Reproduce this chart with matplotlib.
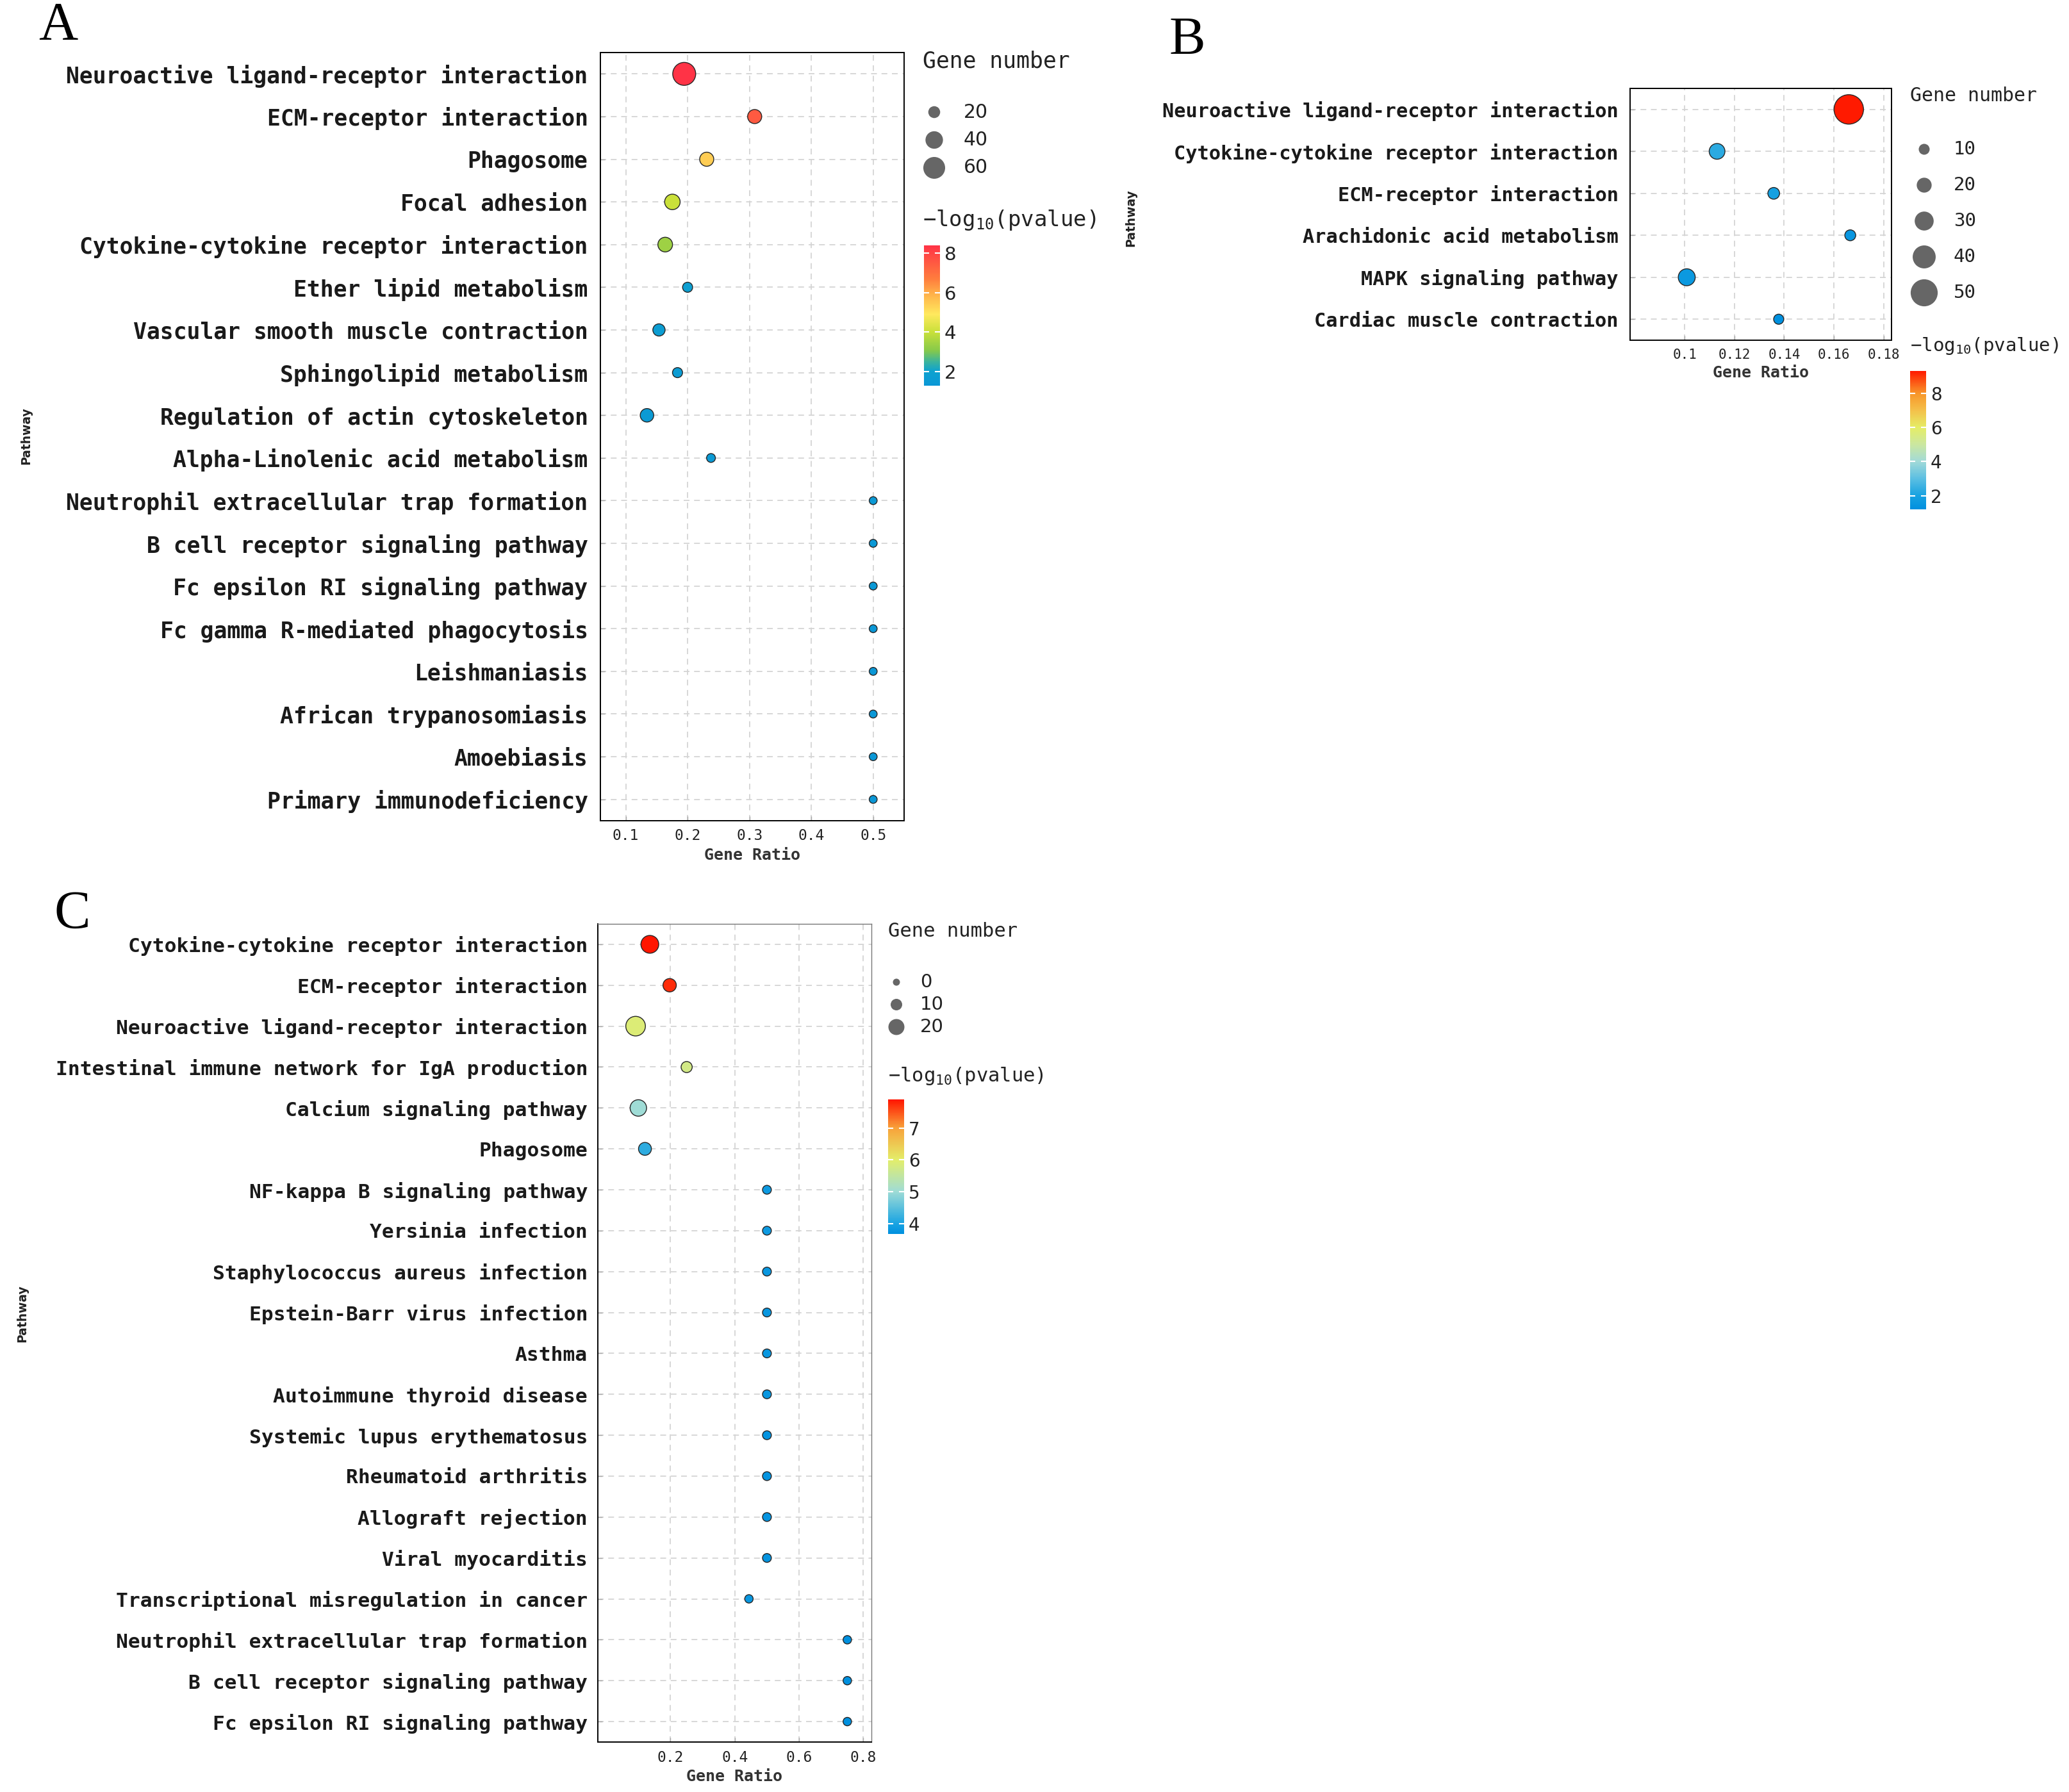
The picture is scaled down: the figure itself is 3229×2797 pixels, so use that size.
import numpy as np
import matplotlib
matplotlib.use("Agg")
import matplotlib.pyplot as plt
from matplotlib.colors import LinearSegmentedColormap, Normalize
from matplotlib.cm import ScalarMappable

W, H, DPI = 3230, 2797, 100
MONO = "DejaVu Sans Mono"

# ---------------- panel A ----------------
a_pathways = ["Neuroactive ligand-receptor interaction", "ECM-receptor interaction",
              "Phagosome", "Focal adhesion", "Cytokine-cytokine receptor interaction",
              "Ether lipid metabolism", "Vascular smooth muscle contraction",
              "Sphingolipid metabolism", "Regulation of actin cytoskeleton",
              "Alpha-Linolenic acid metabolism", "Neutrophil extracellular trap formation",
              "B cell receptor signaling pathway", "Fc epsilon RI signaling pathway",
              "Fc gamma R-mediated phagocytosis", "Leishmaniasis",
              "African trypanosomiasis", "Amoebiasis", "Primary immunodeficiency"]
a_ratio = [0.1945, 0.3084, 0.2309, 0.1754, 0.1638, 0.200, 0.1537, 0.1837, 0.1343,
           0.2378, 0.5, 0.5, 0.5, 0.5, 0.5, 0.5, 0.5, 0.5]
a_count = [66, 27, 27, 32, 29, 15, 21, 15, 25, 12, 10, 10, 10, 10, 10, 10, 10, 10]
a_logp = [8.4, 7.5, 5.4, 4.0, 3.4, 1.8, 1.7, 1.6, 1.5, 1.5, 1.4, 1.35, 1.35, 1.3,
          1.3, 1.3, 1.27, 1.27]
a_xticks = [0.1, 0.2, 0.3, 0.4, 0.5]
a_size_breaks = [20, 40, 60]
a_color_ticks = [2, 4, 6, 8]

# ---------------- panel B ----------------
b_pathways = ["Neuroactive ligand-receptor interaction",
              "Cytokine-cytokine receptor interaction", "ECM-receptor interaction",
              "Arachidonic acid metabolism", "MAPK signaling pathway",
              "Cardiac muscle contraction"]
b_ratio = [0.166, 0.113, 0.1358, 0.1666, 0.1008, 0.1378]
b_count = [56, 22, 12, 10, 25, 8]
b_logp = [9.3, 2.3, 1.9, 1.5, 1.6, 1.2]
b_xticks = [0.1, 0.12, 0.14, 0.16, 0.18]
b_size_breaks = [10, 20, 30, 40, 50]
b_color_ticks = [2, 4, 6, 8]

# ---------------- panel C ----------------
c_pathways = ["Cytokine-cytokine receptor interaction", "ECM-receptor interaction",
              "Neuroactive ligand-receptor interaction",
              "Intestinal immune network for IgA production", "Calcium signaling pathway",
              "Phagosome", "NF-kappa B signaling pathway", "Yersinia infection",
              "Staphylococcus aureus infection", "Epstein-Barr virus infection", "Asthma",
              "Autoimmune thyroid disease", "Systemic lupus erythematosus",
              "Rheumatoid arthritis", "Allograft rejection", "Viral myocarditis",
              "Transcriptional misregulation in cancer",
              "Neutrophil extracellular trap formation",
              "B cell receptor signaling pathway", "Fc epsilon RI signaling pathway"]
c_ratio = [0.1358, 0.1974, 0.0915, 0.2503, 0.100, 0.1206, 0.5, 0.5, 0.5, 0.5, 0.5,
           0.5, 0.5, 0.5, 0.5, 0.5, 0.444, 0.75, 0.75, 0.75]
c_count = [24, 14, 28, 9, 21, 13, 4, 4, 4, 4, 4, 4, 4, 4, 4, 4, 3, 3, 3, 3]
c_logp = [7.9, 7.75, 5.9, 5.75, 5.0, 4.15, 3.85, 3.85, 3.8, 3.8, 3.8, 3.8, 3.75,
          3.75, 3.75, 3.75, 3.8, 3.67, 3.67, 3.67]
c_xticks = [0.2, 0.4, 0.6, 0.8]
c_size_breaks = [0, 10, 20]
c_color_ticks = [4, 5, 6, 7]


def box(x0, y0, x1, y1):
    # pixel box (top-left origin) -> figure fraction rect
    return [x0 / W, 1 - y1 / H, (x1 - x0) / W, (y1 - y0) / H]


def make_cmap(stops):
    vmin, vmax = stops[0][0], stops[-1][0]
    pos = [(v - vmin) / (vmax - vmin) for v, _ in stops]
    cmap = LinearSegmentedColormap.from_list("c", list(zip(pos, [c for _, c in stops])))
    return cmap, Normalize(vmin, vmax)


def area(d_px):
    return (np.asarray(d_px, dtype=float) * 72 / DPI) ** 2


# diameter (px) as a function of gene number, per panel
def size_a(n):
    return -2.6 + 4.73 * np.sqrt(n)


def size_b(n):
    return 10.7 + 0.63 * np.asarray(n, dtype=float)


def size_c(n):
    return 11 + 0.7 * np.asarray(n, dtype=float)


cmap_a, norm_a = make_cmap([(1.27, "#0a97d6"), (2.0, "#0ea2cf"), (2.5, "#3db49a"),
                            (3.05, "#86c94a"), (4.0, "#c9e03a"), (4.9, "#ffe95e"),
                            (6.0, "#ffad48"), (6.7, "#ff7d3d"), (8.4, "#ff3346")])
cmap_b, norm_b = make_cmap([(1.2, "#0090df"), (2.0, "#18a2e1"), (3.0, "#5cbfe2"),
                            (4.0, "#a2dad8"), (5.0, "#cbe7a0"), (6.0, "#e5ed66"),
                            (7.0, "#f4c04a"), (8.0, "#f8962a"), (9.3, "#ff1a00")])
cmap_c, norm_c = make_cmap([(3.67, "#0090df"), (4.0, "#1aa4e2"), (5.0, "#9fdcd6"),
                            (6.0, "#e3ee6a"), (7.0, "#f8a23a"), (7.9, "#ff1500")])

fig = plt.figure(figsize=(W / DPI, H / DPI), dpi=DPI)


def dot_panel(rect, pathways, ratio, count, logp, cmap, norm, size_fn, xlim, xticks,
              label_fs, label_weight, label_pad, tick_fs, frame="black"):
    ax = fig.add_axes(rect)
    y = np.arange(len(pathways))
    ax.scatter(ratio, y, s=area(size_fn(count)), c=logp, cmap=cmap, norm=norm,
               edgecolors="#262626", linewidths=1.0, zorder=3)
    ax.set_xlim(*xlim)
    ax.set_ylim(len(pathways) - 0.5, -0.5)
    ax.set_yticks(y)
    ax.set_yticklabels(pathways, fontfamily=MONO, fontsize=label_fs,
                       fontweight=label_weight, color="#1a1a1a")
    ax.set_xticks(xticks)
    ax.set_xticklabels([f"{t:g}" for t in xticks], fontfamily=MONO, fontsize=tick_fs,
                       color="#222222")
    ax.tick_params(axis="both", direction="in", length=5, width=1, color="#aaaaaa")
    ax.tick_params(axis="y", pad=label_pad)
    ax.tick_params(axis="x", pad=9)
    ax.grid(True, color="#d4d4d4", linestyle=(0, (5, 4)), linewidth=1.3)
    ax.set_axisbelow(True)
    for side in ["left", "bottom"]:
        ax.spines[side].set_color("black")
        ax.spines[side].set_linewidth(1.4)
    for side in ["top", "right"]:
        ax.spines[side].set_color(frame)
        ax.spines[side].set_linewidth(1.4 if frame == "black" else 1.0)
    ax.set_xlabel("Gene Ratio", fontfamily=MONO, fontsize=18, fontweight="bold",
                  color="#333333", labelpad=5)
    return ax


def colorbar(rect, cmap, norm, ticks, fs):
    cax = fig.add_axes(rect)
    cb = fig.colorbar(ScalarMappable(norm=norm, cmap=cmap), cax=cax)
    cb.outline.set_visible(False)
    cb.set_ticks(ticks)
    cax.tick_params(direction="in", color="white", length=6, width=1.5, left=True,
                    right=True, labelsize=fs, labelcolor="#222222", pad=5)
    return cb


def size_legend(x_circle, y_first, step, x_label, breaks, size_fn, fs, family):
    n = len(breaks)
    x0, x1 = x_circle - 40, x_label + 120
    ax = fig.add_axes(box(x0, y_first - step / 2, x1, y_first + (n - 0.5) * step))
    ax.set_xlim(x0 - x_circle, x1 - x_circle)
    ax.set_ylim(n - 0.5, -0.5)
    ax.axis("off")
    ax.scatter(np.zeros(n), np.arange(n), s=area(size_fn(breaks)), color="#666666",
               linewidths=0)
    for i, b in enumerate(breaks):
        ax.text(x_label - x_circle, i, str(b), ha="left", va="center", fontsize=fs,
                fontfamily=family, color="#222222")


def ftext(x, y, s, **kw):
    fig.text(x / W, 1 - y / H, s, **kw)


CB_TITLE = r"$\mathregular{-log_{10}}$(pvalue)"

# ----- A -----
dot_panel(box(937, 82, 1411, 1281), a_pathways, a_ratio, a_count, a_logp, cmap_a,
          norm_a, size_a, (0.059, 0.55), a_xticks, 25, "bold", 14, 16.5)
colorbar(box(1442, 383, 1467, 602), cmap_a, norm_a, a_color_ticks, 21)
size_legend(1458, 175, 43.5, 1504, a_size_breaks, size_a, 21.5, "DejaVu Sans")
ftext(1440, 95, "Gene number", fontfamily=MONO, fontsize=25, color="#222222",
      ha="left", va="center")
ftext(1440, 344, CB_TITLE, fontfamily=MONO, fontsize=24.5, color="#222222",
      ha="left", va="center")
ftext(41, 680, "Pathway", fontfamily="DejaVu Sans", fontweight="bold", fontsize=13.5,
      rotation=90, ha="center", va="center", color="#222222")
ftext(91, 42, "A", fontfamily="Liberation Serif", fontsize=61, ha="center",
      va="center")

# ----- B -----
dot_panel(box(2544, 138, 2952, 531), b_pathways, b_ratio, b_count, b_logp, cmap_b,
          norm_b, size_b, (0.078, 0.1832), b_xticks, 21.8, "bold", 13, 15)
colorbar(box(2981, 579, 3006, 795), cmap_b, norm_b, b_color_ticks, 20)
size_legend(3003, 233, 56, 3049, b_size_breaks, size_b, 21, MONO)
ftext(2981, 150, "Gene number", fontfamily=MONO, fontsize=21.5, color="#222222",
      ha="left", va="center")
ftext(2981, 540, CB_TITLE, fontfamily=MONO, fontsize=21, color="#222222",
      ha="left", va="center")
ftext(1765, 340, "Pathway", fontfamily="DejaVu Sans", fontweight="bold", fontsize=13.5,
      rotation=90, ha="center", va="center", color="#222222")
ftext(1853, 65, "B", fontfamily="Liberation Serif", fontsize=61, ha="center",
      va="center")

# ----- C -----
dot_panel(box(933, 1442, 1360, 2719), c_pathways, c_ratio, c_count, c_logp, cmap_c,
          norm_c, size_c, (-0.026, 0.825), c_xticks, 22.5, "bold", 11.5, 16.5,
          frame="#777777")
colorbar(box(1386, 1716, 1411, 1926), cmap_c, norm_c, c_color_ticks, 20)
size_legend(1399, 1533, 35, 1436, c_size_breaks, size_c, 21, "DejaVu Sans")
ftext(1386, 1454, "Gene number", fontfamily=MONO, fontsize=22, color="#222222",
      ha="left", va="center")
ftext(1386, 1679, CB_TITLE, fontfamily=MONO, fontsize=22, color="#222222",
      ha="left", va="center")
ftext(35, 2050, "Pathway", fontfamily="DejaVu Sans", fontweight="bold", fontsize=13.5,
      rotation=90, ha="center", va="center", color="#222222")
ftext(113, 1428, "C", fontfamily="Liberation Serif", fontsize=61, ha="center",
      va="center")

fig.savefig("out.png", dpi=DPI, facecolor="white")
